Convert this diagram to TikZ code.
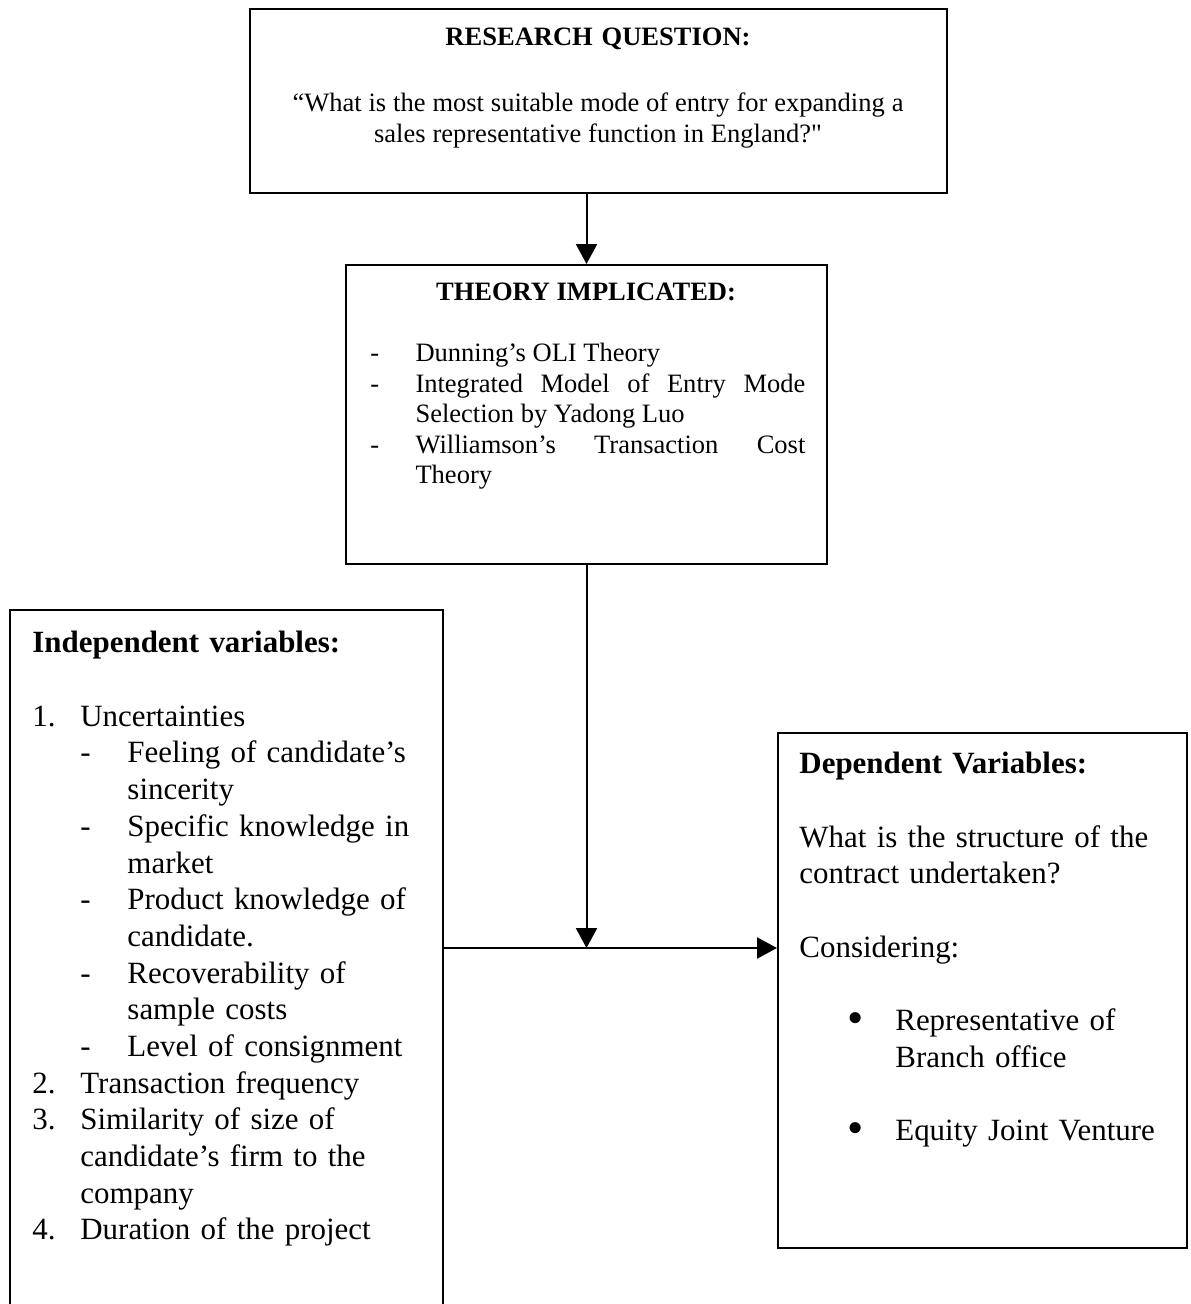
\documentclass[tikz,border=0pt]{standalone}
\usepackage{fontspec}
\setmainfont{Liberation Serif}
\usetikzlibrary{arrows.meta}
\hyphenpenalty=10000

% hanging list entry: indent, label width, label
\newcommand{\hitem}[3]{\par\hangindent=#1\hangafter=0\noindent\hspace*{-#2}\makebox[#2][l]{#3}}
\newcommand{\bigbullet}{\raisebox{-0.08em}{\scalebox{1.5}{•}}}
\newcommand{\straightquote}{\XeTeXglyph\XeTeXcharglyph"22\relax}

\tikzset{
  box/.style={draw,line width=0.9pt,inner sep=0pt},
  arr/.style={line width=0.9pt,-{Triangle[width=9.5pt,length=9pt]}},
  small/.style={font=\fontsize{12}{13.8}\selectfont,inner sep=0pt},
  big/.style={font=\fontsize{14}{16.6}\selectfont,inner sep=0pt},
}

\begin{document}
\begin{tikzpicture}[x=0.4525pt,y=-0.4525pt]
  \useasboundingbox (0,0) rectangle (1190,1304);
  \clip (0,0) rectangle (1190,1304);

  % boxes
  \node[box,minimum width=315.4pt,minimum height=83.3pt]  (rq)     at (598.5,101)   {};
  \node[box,minimum width=217.7pt,minimum height=135.3pt] (theory) at (586.5,414.5) {};
  \node[box,minimum width=195.9pt,minimum height=330.3pt] (indep)  at (226.5,975)   {};
  \node[box,minimum width=185.1pt,minimum height=233pt]   (dep)    at (982.5,990.5) {};

  % texts
  \node[small,anchor=north,text width=310pt,align=center] (rqtext) at (598,28)
    {\textbf{RESEARCH QUESTION:}\\[16pt]
     \spaceskip=0.26em\relax
     “What is the most suitable mode of entry for expanding a\\
     sales representative function in England?\straightquote};
  \node[small,anchor=north,font=\fontsize{12}{13.8}\selectfont\bfseries] (thtitle) at (586,283)
    {THEORY IMPLICATED:};
  \node[small,anchor=north west,text width=196.8pt,align=justify] (thlist) at (370,331)
    {\hitem{20.4pt}{20.4pt}{-}Dunning’s OLI Theory
     \hitem{20.4pt}{20.4pt}{-}Integrated Model of Entry Mode Selection by Yadong Luo
     \hitem{20.4pt}{20.4pt}{-}Williamson’s Transaction Cost Theory\par};
  \node[big,anchor=north west,text width=190pt,align=left] (intext) at (32,631)
    {\textbf{Independent variables:}\par\vspace{16.6pt}
     \hitem{21.7pt}{21.7pt}{1.}Uncertainties
     \hitem{43pt}{21.3pt}{-}Feeling of candidate’s\newline sincerity
     \hitem{43pt}{21.3pt}{-}Specific knowledge in\newline market
     \hitem{43pt}{21.3pt}{-}Product knowledge of\newline candidate.
     \hitem{43pt}{21.3pt}{-}Recoverability of\newline sample costs
     \hitem{43pt}{21.3pt}{-}Level of consignment
     \hitem{21.7pt}{21.7pt}{2.}Transaction frequency
     \hitem{21.7pt}{21.7pt}{3.}Similarity of size of\newline candidate’s firm to the\newline company
     \hitem{21.7pt}{21.7pt}{4.}Duration of the project\par};
  \node[big,anchor=north west,text width=175pt,align=left] (deptext) at (799,752)
    {\textbf{Dependent Variables:}\par\vspace{16.6pt}
     What is the structure of the\newline contract undertaken?\par\vspace{16.6pt}
     Considering:\par\vspace{16.6pt}
     \hitem{43.4pt}{21.7pt}{\bigbullet}Representative of\newline Branch office\par\vspace{16.6pt}
     \hitem{43.4pt}{21.7pt}{\bigbullet}Equity Joint Venture\par};

  % connectors
  \coordinate (join) at (586.5,948);
  \draw[arr] (rq.south -| theory.north) -- (theory.north);
  \draw[arr] (theory.south) -- (join);
  \draw[arr] (join -| indep.east) -- (join -| dep.west);
\end{tikzpicture}
\end{document}
